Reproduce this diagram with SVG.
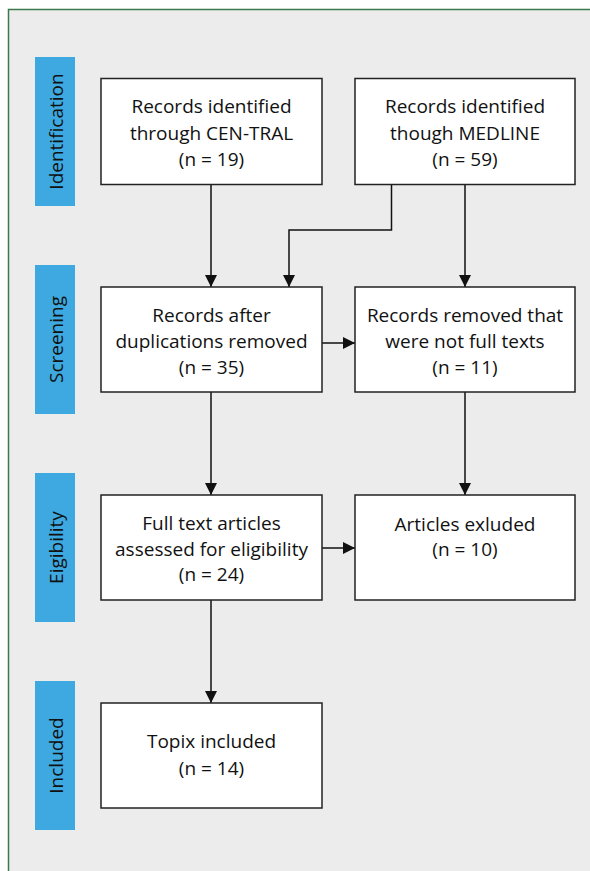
<svg xmlns="http://www.w3.org/2000/svg" width="590" height="871" viewBox="0 0 590 871">
<style>
.box{fill:#fff;stroke:#222;stroke-width:1.5}
.side{fill:#3da9e0}
.t{font-family:"Open Sans","Liberation Sans",sans-serif;font-size:19px;fill:#111;text-anchor:middle}
.st{font-family:"Open Sans","Liberation Sans",sans-serif;font-size:19px;fill:#111;text-anchor:middle}
.c{fill:none;stroke:#111;stroke-width:1.5}
</style>
<defs>
<marker id="ah" markerWidth="12" markerHeight="12" viewBox="0 0 12 12" refX="12" refY="6" orient="auto" markerUnits="userSpaceOnUse">
<path d="M0,0 L12,6 L0,12 Z" fill="#111"/>
</marker>
</defs>
<rect x="8.5" y="9.5" width="600" height="880" fill="#ececec" stroke="#3b7a4b" stroke-width="1.5"/>
<g id="sidebars">
<g id="side-identification"><rect class="side" x="35" y="57" width="40" height="149"/><text class="st" transform="translate(62.5,131.5) rotate(-90)">Identification</text></g>
<g id="side-screening"><rect class="side" x="35" y="265" width="40" height="149"/><text class="st" transform="translate(62.5,339.5) rotate(-90)">Screening</text></g>
<g id="side-eligibility"><rect class="side" x="35" y="473" width="40" height="149"/><text class="st" transform="translate(62.5,547.5) rotate(-90)">Eigibility</text></g>
<g id="side-included"><rect class="side" x="35" y="681" width="40" height="149"/><text class="st" transform="translate(62.5,755.5) rotate(-90)">Included</text></g>
</g>
<g id="connectors">
<line class="c" x1="211" y1="185" x2="211" y2="287" marker-end="url(#ah)"/>
<polyline class="c" points="391.5,185 391.5,230 289,230 289,287" marker-end="url(#ah)"/>
<line class="c" x1="465" y1="185" x2="465" y2="287" marker-end="url(#ah)"/>
<line class="c" x1="322" y1="343" x2="355" y2="343" marker-end="url(#ah)"/>
<line class="c" x1="211" y1="392" x2="211" y2="495" marker-end="url(#ah)"/>
<line class="c" x1="465" y1="392" x2="465" y2="495" marker-end="url(#ah)"/>
<line class="c" x1="322" y1="548" x2="355" y2="548" marker-end="url(#ah)"/>
<line class="c" x1="211" y1="600" x2="211" y2="703" marker-end="url(#ah)"/>
</g>
<g id="n1"><rect class="box" x="101" y="78.5" width="221" height="106"/>
<text class="t" x="211.5" y="113">Records identified</text><text class="t" x="211.5" y="139.5">through CEN-TRAL</text><text class="t" x="211.5" y="165.5">(n = 19)</text></g>
<g id="n2"><rect class="box" x="355" y="78.5" width="220" height="106"/>
<text class="t" x="465" y="113">Records identified</text><text class="t" x="465" y="139.5">though MEDLINE</text><text class="t" x="465" y="165.5">(n = 59)</text></g>
<g id="n3"><rect class="box" x="101" y="287" width="221" height="105"/>
<text class="t" x="211.5" y="322">Records after</text><text class="t" x="211.5" y="348">duplications removed</text><text class="t" x="211.5" y="374">(n = 35)</text></g>
<g id="n4"><rect class="box" x="355" y="287" width="220" height="105"/>
<text class="t" x="465" y="322">Records removed that</text><text class="t" x="465" y="348">were not full texts</text><text class="t" x="465" y="374">(n = 11)</text></g>
<g id="n5"><rect class="box" x="101" y="495" width="221" height="105"/>
<text class="t" x="211.5" y="530">Full text articles</text><text class="t" x="211.5" y="555.5">assessed for eligibility</text><text class="t" x="211.5" y="581">(n = 24)</text></g>
<g id="n6"><rect class="box" x="355" y="495" width="220" height="105"/>
<text class="t" x="465" y="530.5">Articles exluded</text><text class="t" x="465" y="556">(n = 10)</text></g>
<g id="n7"><rect class="box" x="101" y="703" width="221" height="105"/>
<text class="t" x="211.5" y="748">Topix included</text><text class="t" x="211.5" y="775">(n = 14)</text></g>
</svg>
